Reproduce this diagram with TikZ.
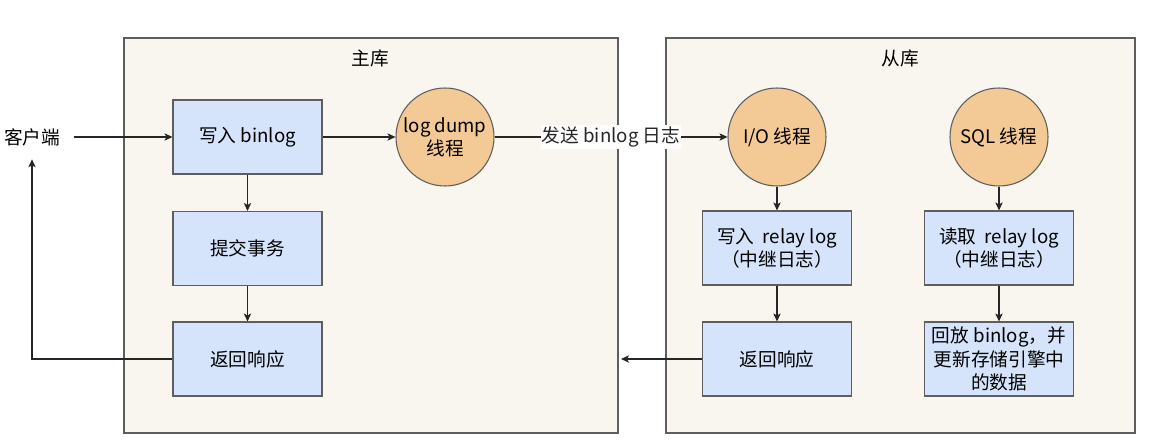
\documentclass[tikz,border=0pt]{standalone}
\usepackage{fontspec}
\setmainfont{Noto Sans CJK SC}
\usetikzlibrary{positioning,arrows.meta}
\definecolor{dbfill}{HTML}{F8F6EE}
\definecolor{stepfill}{HTML}{D5E4FA}
\definecolor{thrfill}{HTML}{F3C996}
\definecolor{edgegray}{HTML}{5E5E5E}
\tikzset{
  flow/.style={-{Stealth[length=6pt,width=5.5pt,inset=1.5pt]}, line width=0.8pt, black!85},
  stepbox/.style={draw=edgegray, fill=stepfill, line width=0.8pt, align=center,
    minimum width=111.75pt, minimum height=55.5pt, inner sep=1pt},
  thread/.style={circle, draw=edgegray, fill=thrfill, line width=0.8pt, align=center,
    minimum size=73.5pt, inner sep=0pt},
}
\begin{document}
\begin{tikzpicture}[x=0.75pt,y=-0.75pt, font=\fontsize{14}{17.5}\selectfont]
        \useasboundingbox[fill=white] (0,0) rectangle (1165,445);

        % Databases
        \draw[draw=edgegray, fill=dbfill, line width=0.9pt] (124,38) rectangle (618,433);
        \draw[draw=edgegray, fill=dbfill, line width=0.9pt] (666,38) rectangle (1135,433);
        \node (master) at (370,58) {主库};
        \node (slave) at (900,58) {从库};

        % Nodes
        \node[inner sep=10pt] (client) at (32,137) {客户端};
        \foreach \n/\x/\y/\t in {wbin/247.5/137/{写入 binlog}, commit/247.5/248.5/{提交事务},
            resp/247.5/359/{返回响应}, relay/777/248/{写入 \ relay log\\（中继日志）},
            sresp/777/359/{返回响应}, readrelay/999/248/{读取 \ relay log\\（中继日志）},
            replay/999/359/{回放 binlog，并\\更新存储引擎中\\的数据}}
            \node[stepbox] (\n) at (\x,\y) {\t};
        \foreach \n/\x/\t in {dump/445/{log dump\\线程}, io/777/{I/O 线程}, sql/999/{SQL 线程}}
            \node[thread] (\n) at (\x,137) {\t};
        \coordinate (mainedge) at (621,359);

        % Edges
        \draw[flow] (client) -- (wbin);
        \draw[flow] (wbin) -- (commit);
        \draw[flow] (commit) -- (resp);
        \draw[flow] (resp.west) -| (client.south);
        \draw[flow] (wbin) -- (dump);
        \draw[flow] (dump) -- node[fill=white, inner sep=1pt] {发送 binlog 日志} (io);
        \draw[flow] (io) -- (relay);
        \draw[flow] (relay) -- (sresp);
        \draw[flow] (sresp) -- (mainedge);
        \draw[flow] (sql) -- (readrelay);
        \draw[flow] (readrelay) -- (replay);
    \end{tikzpicture}
\end{document}
